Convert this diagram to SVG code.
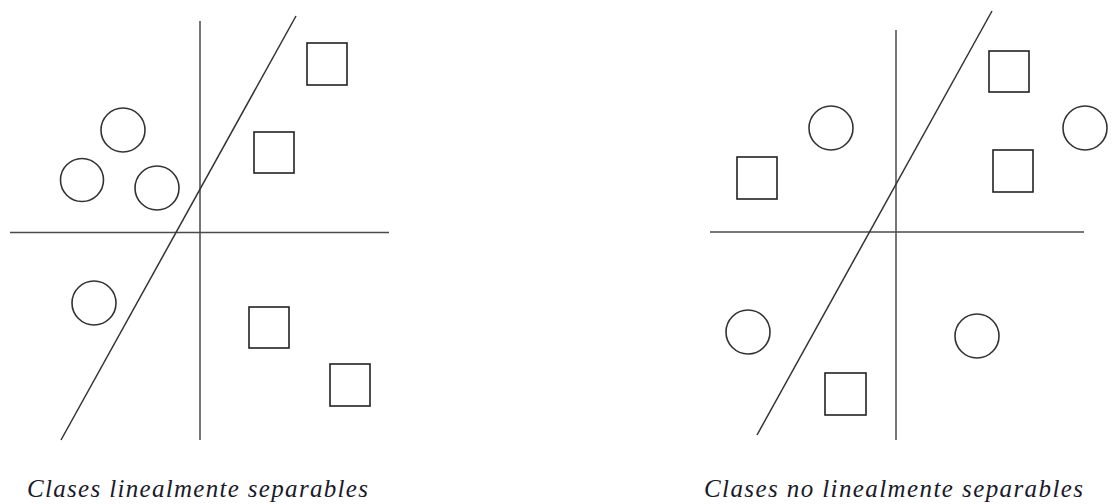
<svg xmlns="http://www.w3.org/2000/svg" width="1113" height="504" viewBox="0 0 1113 504">
<style>
.ax{stroke:#4a4a4a;stroke-width:1.5;fill:none}
.sep{stroke:#333;stroke-width:1.5;fill:none}
.c{stroke:#333;stroke-width:1.6;fill:none}
.s{stroke:#222;stroke-width:1.6;fill:none}
.lbl{font-family:"Liberation Serif",serif;font-style:italic;font-size:25px;fill:#1a1a2a}
</style>
<rect width="1113" height="504" fill="#fff"/>
<g id="connectors">
<line class="ax" x1="200" y1="21" x2="200" y2="440"/>
<line class="ax" x1="10" y1="232.5" x2="389" y2="232.5"/>
<line class="sep" x1="296" y1="16" x2="61" y2="440"/>
<line class="ax" x1="896" y1="30" x2="896" y2="440"/>
<line class="ax" x1="710" y1="232" x2="1084" y2="232"/>
<line class="sep" x1="992" y1="11" x2="757" y2="435"/>
</g>
<g id="left-c1"><circle class="c" cx="123" cy="130" r="22"/></g>
<g id="left-c2"><circle class="c" cx="82" cy="180" r="21.5"/></g>
<g id="left-c3"><circle class="c" cx="157" cy="188" r="22"/></g>
<g id="left-c4"><circle class="c" cx="94" cy="303" r="22"/></g>
<g id="left-s1"><rect class="s" x="307" y="43" width="40" height="42"/></g>
<g id="left-s2"><rect class="s" x="254" y="132" width="40" height="41"/></g>
<g id="left-s3"><rect class="s" x="249" y="307" width="40" height="41"/></g>
<g id="left-s4"><rect class="s" x="330" y="364" width="40" height="42"/></g>
<g id="right-c1"><circle class="c" cx="831" cy="128" r="22"/></g>
<g id="right-c2"><circle class="c" cx="1085" cy="128" r="22"/></g>
<g id="right-c3"><circle class="c" cx="748" cy="332" r="22"/></g>
<g id="right-c4"><circle class="c" cx="977" cy="336" r="22"/></g>
<g id="right-s1"><rect class="s" x="989" y="51" width="40" height="41"/></g>
<g id="right-s2"><rect class="s" x="993" y="150" width="40" height="42"/></g>
<g id="right-s3"><rect class="s" x="737" y="157" width="40" height="42"/></g>
<g id="right-s4"><rect class="s" x="825" y="373" width="41" height="42"/></g>
<g id="label-left"><text class="lbl" x="27" y="497" textLength="341" lengthAdjust="spacing">Clases linealmente separables</text></g>
<g id="label-right"><text class="lbl" x="704" y="497" textLength="379" lengthAdjust="spacing">Clases no linealmente separables</text></g>
</svg>
